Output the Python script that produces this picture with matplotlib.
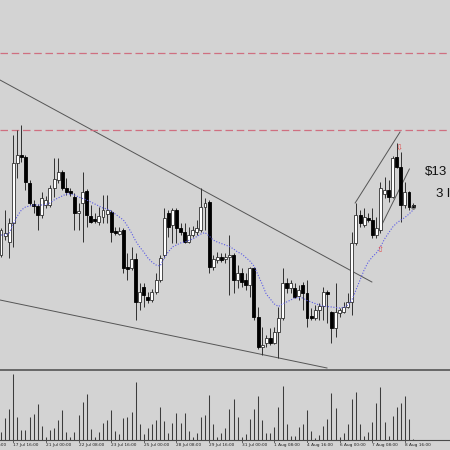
import numpy as np
import matplotlib
matplotlib.use("Agg")
import matplotlib.pyplot as plt

# 4H candles
opens = [114.5, 116.4, 115.8, 117.7, 123.7, 124.5, 124.3, 121.7, 119.5, 119.4,
         118.5, 119.5, 119.5, 121.2, 122.0, 122.8, 121.2, 120.9, 120.3, 118.7,
         119.7, 120.9, 118.4, 118.0, 117.8, 118.3, 118.6, 118.8, 116.9, 116.6,
         117.0, 113.3, 113.2, 114.1, 109.8, 111.3, 110.3, 110.0, 110.8, 112.0,
         114.5, 118.7, 117.5, 119.0, 117.2, 116.8, 115.8, 116.5, 116.8, 117.0,
         119.3, 119.8, 113.3, 114.0, 114.3, 114.1, 114.3, 114.5, 112.0, 112.7,
         112.0, 111.5, 113.2, 108.3, 105.3, 105.7, 106.2, 105.7, 106.8, 108.2,
         111.7, 111.2, 111.2, 110.4, 111.5, 110.7, 108.4, 108.2, 109.0, 109.4,
         110.8, 108.8, 107.2, 108.7, 108.8, 109.3, 109.8, 115.7, 118.5, 117.5,
         118.2, 118.0, 116.5, 117.0, 120.6, 121.0, 120.3, 124.3, 123.3, 119.5,
         120.8, 119.4]
highs = [117.2, 119.0, 118.2, 126.5, 127.0, 127.5, 124.5, 122.0, 120.0, 119.6,
         120.8, 120.4, 121.5, 124.2, 124.2, 123.0, 122.2, 121.2, 120.7, 119.7,
         122.8, 121.1, 119.5, 118.7, 119.3, 120.5, 120.5, 119.0, 117.3, 117.3,
         117.2, 114.7, 115.3, 114.7, 111.7, 111.7, 110.8, 111.1, 112.7, 114.5,
         119.2, 119.0, 119.2, 119.2, 117.7, 117.7, 117.3, 117.4, 118.0, 121.2,
         120.2, 120.0, 114.5, 114.8, 114.7, 114.7, 116.5, 114.7, 113.5, 113.2,
         112.7, 113.3, 113.3, 109.3, 107.3, 106.5, 107.2, 107.3, 109.3, 113.2,
         112.2, 112.0, 111.7, 111.5, 111.8, 112.0, 109.2, 109.5, 109.7, 111.3,
         111.0, 108.9, 111.7, 109.2, 109.8, 110.7, 116.8, 119.7, 119.0, 119.2,
         118.7, 119.2, 118.3, 121.8, 122.3, 122.0, 124.4, 125.7, 124.8, 121.8,
         120.9, 119.7]
lows = [114.3, 116.0, 114.2, 115.3, 122.2, 123.8, 121.0, 119.5, 118.7, 117.0,
        118.2, 119.2, 119.3, 120.3, 121.7, 121.0, 120.5, 120.4, 117.0, 117.0,
        115.8, 117.3, 117.7, 117.7, 117.5, 117.7, 117.7, 115.8, 116.5, 116.5,
        112.7, 112.0, 113.0, 108.0, 109.0, 109.3, 109.7, 109.8, 110.6, 111.8,
        114.2, 116.3, 115.7, 115.7, 116.5, 115.7, 115.7, 116.3, 116.5, 116.8,
        117.0, 112.7, 113.0, 113.7, 113.8, 113.7, 110.5, 110.7, 111.2, 111.3,
        111.0, 110.3, 108.0, 105.1, 104.5, 105.3, 105.5, 105.6, 104.2, 108.0,
        110.7, 110.7, 110.2, 110.0, 109.0, 107.3, 108.0, 108.0, 108.0, 108.0,
        107.7, 105.7, 106.3, 108.3, 108.7, 109.2, 108.5, 115.5, 117.3, 117.3,
        117.8, 116.2, 116.2, 116.7, 120.2, 119.8, 120.2, 123.2, 117.8, 119.2,
        119.0, 119.2]
closes = [117.0, 116.7, 117.7, 123.7, 124.5, 124.3, 121.8, 119.7, 119.4, 118.5,
          120.2, 120.0, 121.2, 122.1, 122.8, 121.2, 120.8, 120.7, 118.7, 118.9,
          120.8, 118.5, 117.8, 117.9, 118.4, 119.0, 119.0, 116.8, 116.7, 116.9,
          113.2, 113.1, 114.1, 109.8, 110.8, 110.5, 110.0, 110.8, 112.0, 114.2,
          118.2, 117.3, 119.0, 117.2, 116.8, 115.8, 116.5, 117.0, 117.2, 119.3,
          119.7, 113.3, 114.1, 114.3, 114.0, 114.3, 114.5, 112.0, 112.7, 111.8,
          111.5, 113.2, 108.3, 105.3, 105.5, 106.2, 105.7, 106.8, 108.2, 111.7,
          111.2, 111.7, 110.3, 111.0, 110.7, 108.2, 108.2, 109.0, 109.4, 110.8,
          110.6, 107.2, 108.8, 109.0, 109.3, 109.8, 115.7, 118.5, 117.7, 118.3,
          118.0, 116.5, 117.2, 121.2, 121.0, 120.3, 124.2, 123.3, 119.5, 120.8,
          119.3, 119.3]
ma_values = [116.5, 116.5, 116.7, 117.6, 118.4, 119.0, 119.3, 119.4, 119.5, 119.5,
             119.5, 119.55, 119.7, 120.0, 120.2, 120.4, 120.6, 120.6, 120.5, 120.3,
             120.15, 120.0, 119.8, 119.6, 119.4, 119.2, 119.1, 118.9, 118.6, 118.3,
             118.0, 117.4, 116.7, 115.9, 115.3, 114.8, 114.2, 113.8, 113.5, 113.4,
             114.2, 114.8, 115.3, 115.5, 115.7, 115.8, 115.95, 116.1, 116.35, 116.6,
             116.75, 116.4, 116.0, 115.8, 115.65, 115.5, 115.35, 115.1, 114.8, 114.6,
             114.25, 113.9, 113.4, 112.5, 111.6, 110.6, 110.1, 109.6, 109.35, 109.6,
             109.8, 110.0, 110.2, 110.25, 110.2, 109.95, 109.8, 109.65, 109.5, 109.4,
             109.35, 109.3, 109.25, 109.2, 109.25, 109.5, 110.0, 111.0, 112.0, 113.0,
             113.8, 114.3, 114.7, 115.3, 116.1, 116.7, 117.3, 117.7, 118.0, 118.25,
             118.6, 119.0]
volumes = [77, 223, 310, 657, 233, 100, 100, 227, 260, 357,
           140, 33, 100, 123, 200, 300, 83, 33, 83, 253,
           377, 463, 107, 33, 77, 173, 200, 303, 90, 57,
           217, 227, 283, 580, 157, 57, 117, 157, 200, 333,
           190, 73, 173, 273, 167, 273, 90, 33, 67, 227,
           250, 450, 160, 33, 67, 117, 310, 410, 233, 33,
           57, 207, 313, 440, 200, 73, 73, 127, 333, 540,
           160, 40, 40, 127, 160, 303, 93, 17, 47, 140,
           207, 467, 317, 27, 67, 160, 407, 477, 157, 40,
           83, 183, 367, 527, 183, 40, 240, 333, 367, 440,
           210, 7]

tick_pos = [-5, 3, 11, 19, 27, 35, 43, 51, 59, 67, 75, 83, 91, 99]
tick_labels = ['16 Jul 08:00', '17 Jul 16:00', '21 Jul 00:00', '22 Jul 08:00',
               '23 Jul 16:00', '25 Jul 00:00', '28 Jul 08:00', '29 Jul 16:00',
               '31 Jul 00:00', '1 Aug 08:00', '4 Aug 16:00', '6 Aug 00:00',
               '7 Aug 08:00', '8 Aug 16:00']

# drawn objects: (x0, y0, x1, y1) in bar index / price
trend_lines = [(-0.25, 132.0, 90.9, 111.8),
               (-0.25, 110.0, 79.9, 103.2),
               (86.8, 119.7, 97.8, 126.8),
               (92.1, 116.5, 100.1, 123.1)]
levels = [134.7, 127.0]
arrow_up = (92.9, 115.1)
arrow_down = (97.5, 125.2)

bg = '#d3d3d3'
fig = plt.figure(figsize=(4.5, 4.5), dpi=100, facecolor=bg)
ax = fig.add_axes([0, 81 / 450, 1, 369 / 450], facecolor=bg)
axv = fig.add_axes([0, 10 / 450, 1, 70 / 450], facecolor=bg)

x = np.arange(len(opens))
o = np.array(opens)
h = np.array(highs)
l = np.array(lows)
c = np.array(closes)
up = c >= o

ax.vlines(x, l, h, color='#303030', lw=0.7, zorder=2)
bottom = np.minimum(o, c)
height = np.maximum(np.abs(c - o), 0.15)
ax.bar(x[up], height[up], bottom=bottom[up], width=0.72, color='white',
       edgecolor='#303030', linewidth=0.6, zorder=3)
ax.bar(x[~up], height[~up], bottom=bottom[~up], width=0.72, color='black',
       edgecolor='black', linewidth=0.6, zorder=3)

ax.plot(x, ma_values, color='#5a5ae6', lw=0.8, linestyle=(0, (1, 1.5)), zorder=4)

for x0, y0, x1, y1 in trend_lines:
    ax.plot([x0, x1], [y0, y1], color='#555555', lw=0.7, zorder=1)
for lv in levels:
    ax.axhline(lv, color='#cf6f80', lw=0.9, dashes=(6, 3), zorder=1)

ax.text(*arrow_up, '\u21e7', color='#e04848', fontsize=6, ha='center', va='center', zorder=5)
ax.text(*arrow_down, '\u21e9', color='#e04848', fontsize=6, ha='center', va='center', zorder=5)
ax.plot(x[-1], closes[-1], 'o', mfc='none', mec='#505050', ms=2.5, mew=0.6, zorder=5)

ax.set_xlim(-0.245, 110.05)
ax.set_ylim(103.1, 140)
ax.axis('off')

axv.vlines(x, 0, volumes, color='#3c3c3c', lw=0.75)
axv.set_xlim(-0.245, 110.05)
axv.set_ylim(0, 700)
axv.set_xticks([])
axv.set_yticks([])
for s in ['left', 'right']:
    axv.spines[s].set_visible(False)
axv.spines['top'].set_color('#5e5e5e')
axv.spines['top'].set_linewidth(1.3)
axv.spines['bottom'].set_color('#4a4a4a')
axv.spines['bottom'].set_linewidth(0.8)

tr = axv.get_xaxis_transform()
for p, lab in zip(tick_pos, tick_labels):
    axv.text(p, -0.065, lab, transform=tr, fontsize=3.1, color='#202020',
             ha='left', va='center', clip_on=False)
    axv.plot([p, p], [0, -0.03], transform=tr, color='#4a4a4a', lw=0.6, clip_on=False)

# text overlay at the right edge, cut by the frame in the original screenshot
fig.text(425 / 450, 1 - 172 / 450, '$13', fontsize=9.5, family='Liberation Sans',
         color='#111111', va='center', ha='left')
fig.text(436 / 450, 1 - 194 / 450, '3 l', fontsize=9.5, family='Liberation Sans',
         color='#111111', va='center', ha='left')

fig.savefig('out.png', dpi=100, facecolor=bg)
